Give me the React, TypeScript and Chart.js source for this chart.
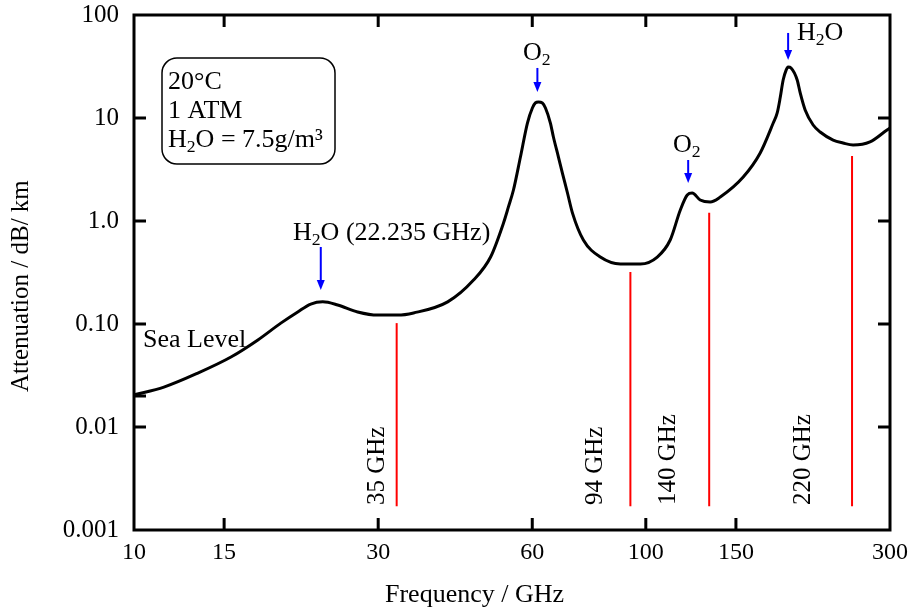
import React, { useEffect, useRef } from "react";
import { Chart, registerables } from "chart.js";

Chart.register(...registerables);

const FONT = '"Liberation Serif", "Times New Roman", Times, serif';

// Sea-level attenuation curve (GHz, dB/km)
const frequencies = [
  10, 11.44, 13.33, 15.47, 17.46, 19.36, 20.89, 22.15, 23.38, 25.0,
  27.35, 29.92, 32.74, 35.18, 41.01, 46.07, 49.74, 52.72, 53.9, 55.13,
  56.89, 58.71, 60.03, 60.85, 61.66, 62.8, 63.67, 65.1, 65.99, 67.5,
  68.71, 70.3, 71.88, 75.51, 81.5, 89.2, 97.6, 105.3, 111.6, 116.8,
  120.5, 123.2, 127.7, 133.6, 139.8, 155.0, 167.3, 177.4, 180.6, 183.0,
  185.5, 188.0, 189.7, 192.2, 197.6, 200.3, 204.8, 212.3, 219.1, 232.3,
  242.9, 254.1, 274.2, 296.0, 300,
];
const attenuation = [
  0.0205, 0.0244, 0.0334, 0.0478, 0.07, 0.102, 0.131, 0.156, 0.164, 0.153,
  0.131, 0.122, 0.122, 0.128, 0.164, 0.267, 0.447, 0.957, 1.37, 2.0,
  4.18, 8.94, 12.5, 14.0, 14.3, 14.0, 12.5, 8.94, 6.54, 4.18,
  2.92, 1.87, 1.2, 0.654, 0.447, 0.383, 0.383, 0.447, 0.654, 1.28,
  1.79, 1.87, 1.6, 1.53, 1.71, 2.67, 4.57, 8.94, 11.2, 15.6,
  23.4, 29.2, 31.3, 30.6, 23.4, 17.5, 11.96, 8.55, 7.31, 6.11,
  5.72, 5.47, 5.86, 7.65, 8.0,
];

// Axis ticks
const xTickValues = [10, 15, 30, 60, 100, 150, 300];
const xTickLabels = ["10", "15", "30", "60", "100", "150", "300"];
const yTickValues = [0.001, 0.01, 0.1, 1, 10, 100];
const yTickLabels = ["0.001", "0.01", "0.10", "1.0", "10", "100"];
const yExtraTickValues = [0.02];

// Red marker lines (where drawn in the picture) and their labels
const bandLabels = ["35 GHz", "94 GHz", "140 GHz", "220 GHz"];
const bandFreqs = [32.6, 93.3, 133.0, 252.9];
const bandTops = [0.102, 0.32, 1.2, 4.28];
const bandBottom = 0.0017;

// Absorption peaks marked by blue arrows
const peakLabels = ["H_2O (22.235 GHz)", "O_2", "O_2", "H_2O"];
const peakFreqs = [23.17, 61.4, 121.0, 189.7];
const peakArrowTips = [0.214, 17.9, 2.34, 36.6];

// Condition box
const boxLines = ["20°C", "1 ATM", "H_2O = 7.5g/m³"];
const curveLabel = "Sea Level";
const xTitle = "Frequency / GHz";
const yTitle = "Attenuation / dB/ km";

// ---- layout / style (pixel) ----
const arrowLengths = [43, 24, 23, 27];
const peakLabelPos = [
  [293, 240],
  [523, 60],
  [673, 152],
  [797, 40],
];
const bandLabelOffsets = [13, 28, 34, 42];
const bandLabelStartY = 505;
const TEXT_SIZE = 26;

function drawRich(ctx: CanvasRenderingContext2D, text: string, x: number, y: number, size: number) {
  // "_" marks a one-character subscript
  const segs: { t: string; sub: boolean }[] = [];
  let buf = "";
  for (let i = 0; i < text.length; i++) {
    if (text[i] === "_" && i + 1 < text.length) {
      if (buf) segs.push({ t: buf, sub: false });
      buf = "";
      segs.push({ t: text[i + 1], sub: true });
      i++;
    } else buf += text[i];
  }
  if (buf) segs.push({ t: buf, sub: false });
  let cx = x;
  ctx.textAlign = "left";
  ctx.textBaseline = "alphabetic";
  for (const s of segs) {
    const sz = s.sub ? size * 0.68 : size;
    ctx.font = `${sz}px ${FONT}`;
    ctx.fillText(s.t, cx, y + (s.sub ? size * 0.2 : 0));
    cx += ctx.measureText(s.t).width;
  }
}

const decorPlugin = {
  id: "decor",
  afterDraw(chart: any) {
    const ctx: CanvasRenderingContext2D = chart.ctx;
    const { left, right, top, bottom } = chart.chartArea;
    const xs = chart.scales.x;
    const ys = chart.scales.y;
    ctx.save();

    // frame
    ctx.strokeStyle = "#000";
    ctx.lineWidth = 3;
    ctx.strokeRect(left, top, right - left, bottom - top);

    // inside tick marks
    const tl = 12;
    ctx.beginPath();
    xTickValues.slice(1, -1).forEach((v) => {
      const px = xs.getPixelForValue(v);
      ctx.moveTo(px, bottom);
      ctx.lineTo(px, bottom - tl);
      ctx.moveTo(px, top);
      ctx.lineTo(px, top + tl);
    });
    yTickValues.slice(1, -1).forEach((v) => {
      const py = ys.getPixelForValue(v);
      ctx.moveTo(left, py);
      ctx.lineTo(left + tl, py);
      ctx.moveTo(right, py);
      ctx.lineTo(right - tl, py);
    });
    yExtraTickValues.forEach((v) => {
      const py = ys.getPixelForValue(v);
      ctx.moveTo(left, py);
      ctx.lineTo(left + tl, py);
    });
    ctx.stroke();

    // blue arrows
    ctx.strokeStyle = "#0000ff";
    ctx.fillStyle = "#0000ff";
    ctx.lineWidth = 2;
    peakFreqs.forEach((f, i) => {
      const px = xs.getPixelForValue(f);
      const tip = ys.getPixelForValue(peakArrowTips[i]);
      const tail = tip - arrowLengths[i];
      ctx.beginPath();
      ctx.moveTo(px, tail);
      ctx.lineTo(px, tip - 8);
      ctx.stroke();
      ctx.beginPath();
      ctx.moveTo(px - 4, tip - 10);
      ctx.lineTo(px + 4, tip - 10);
      ctx.lineTo(px, tip);
      ctx.closePath();
      ctx.fill();
    });

    // texts
    ctx.fillStyle = "#000";
    peakLabels.forEach((t, i) => {
      drawRich(ctx, t, peakLabelPos[i][0], peakLabelPos[i][1], TEXT_SIZE);
    });
    drawRich(ctx, curveLabel, 143, 347, TEXT_SIZE);

    // condition box
    ctx.strokeStyle = "#000";
    ctx.lineWidth = 1.5;
    ctx.beginPath();
    (ctx as any).roundRect(162, 58, 173, 106, 15);
    ctx.stroke();
    boxLines.forEach((t, i) => drawRich(ctx, t, 168, 89 + i * 29, TEXT_SIZE));

    // band labels (rotated)
    ctx.font = `25px ${FONT}`;
    bandLabels.forEach((t, i) => {
      const px = xs.getPixelForValue(bandFreqs[i]) - bandLabelOffsets[i];
      ctx.save();
      ctx.translate(px, bandLabelStartY);
      ctx.rotate(-Math.PI / 2);
      ctx.textAlign = "left";
      ctx.textBaseline = "alphabetic";
      ctx.fillText(t, 0, 0);
      ctx.restore();
    });

    // axis titles
    ctx.font = `26px ${FONT}`;
    ctx.textAlign = "left";
    ctx.textBaseline = "alphabetic";
    ctx.fillText(xTitle, 385, 602);
    ctx.font = `25px ${FONT}`;
    ctx.save();
    ctx.translate(28, 392);
    ctx.rotate(-Math.PI / 2);
    ctx.fillText(yTitle, 0, 0);
    ctx.restore();

    ctx.restore();
  },
};

const zeroPad = (s: any) => {
  s.paddingLeft = 0;
  s.paddingRight = 0;
  s.paddingTop = 0;
  s.paddingBottom = 0;
};

export default function App() {
  const ref = useRef<HTMLCanvasElement | null>(null);
  useEffect(() => {
    if (!ref.current) return;
    const datasets: any[] = [
      {
        label: "Sea Level",
        data: frequencies.map((f, i) => ({ x: f, y: attenuation[i] })),
        borderColor: "#000",
        borderWidth: 3,
        pointRadius: 0,
        cubicInterpolationMode: "monotone",
        fill: false,
      },
      ...bandFreqs.map((f, i) => ({
        label: bandLabels[i],
        data: [
          { x: f, y: bandBottom },
          { x: f, y: bandTops[i] },
        ],
        borderColor: "#ff0000",
        borderWidth: 2,
        pointRadius: 0,
        tension: 0,
        fill: false,
      })),
    ];
    const chart = new Chart(ref.current, {
      type: "line",
      data: { datasets },
      options: {
        animation: false,
        responsive: false,
        maintainAspectRatio: false,
        layout: { padding: { top: 15, right: 20, left: 0, bottom: 0 } },
        plugins: { legend: { display: false }, tooltip: { enabled: false } },
        scales: {
          x: {
            type: "logarithmic",
            min: 10,
            max: 300,
            afterBuildTicks: (s: any) => {
              s.ticks = xTickValues.map((v) => ({ value: v }));
            },
            afterFit: (s: any) => {
              s.height = 85;
              zeroPad(s);
            },
            ticks: {
              autoSkip: false,
              maxRotation: 0,
              minRotation: 0,
              padding: 8,
              color: "#000",
              font: { family: FONT, size: 24 },
              callback: (_v: any, i: number) => xTickLabels[i],
            },
            grid: { display: false, drawTicks: false },
            border: { display: false },
          },
          y: {
            type: "logarithmic",
            min: 0.001,
            max: 100,
            afterBuildTicks: (s: any) => {
              s.ticks = yTickValues.map((v) => ({ value: v }));
            },
            afterFit: (s: any) => {
              s.width = 134;
              zeroPad(s);
            },
            ticks: {
              autoSkip: false,
              padding: 15,
              color: "#000",
              font: { family: FONT, size: 25 },
              callback: (_v: any, i: number) => yTickLabels[i],
            },
            grid: { display: false, drawTicks: false },
            border: { display: false },
          },
        },
      },
      plugins: [decorPlugin],
    });
    return () => chart.destroy();
  }, []);
  return (
    <div style={{ position: "absolute", left: 0, top: 0, width: 910, height: 615, background: "#fff" }}>
      <canvas ref={ref} width={910} height={615} style={{ display: "block" }} />
    </div>
  );
}
